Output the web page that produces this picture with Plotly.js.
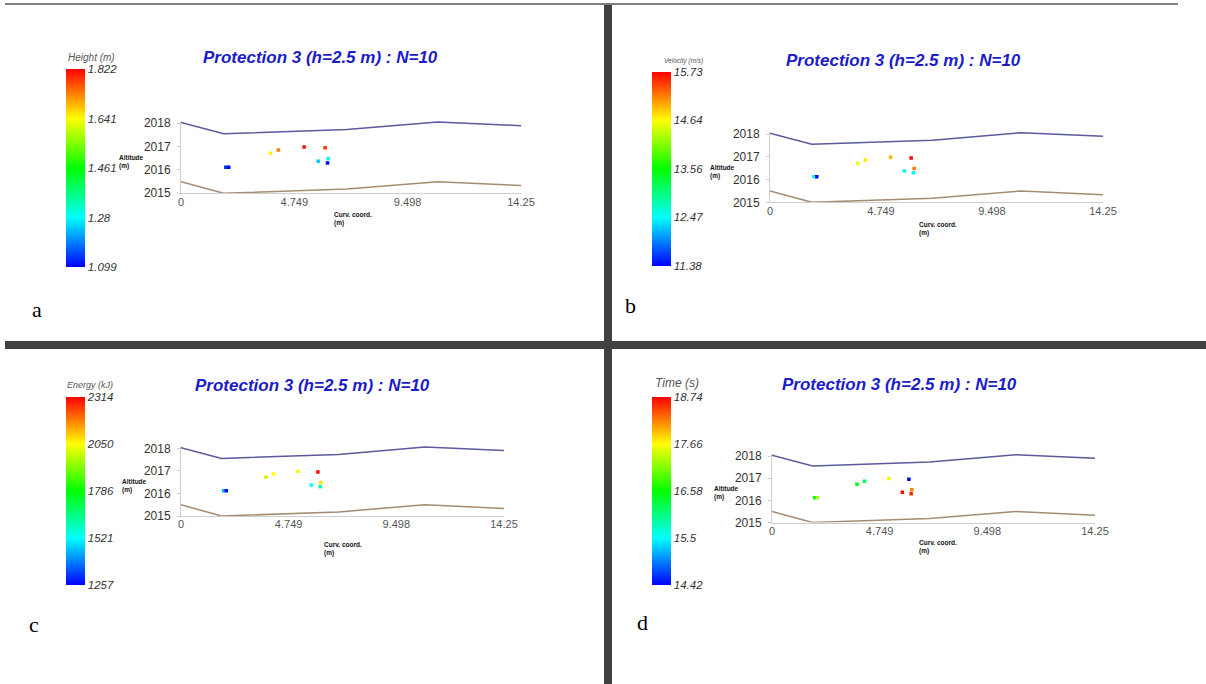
<!DOCTYPE html>
<html><head><meta charset="utf-8">
<script src="https://cdn.plot.ly/plotly-3.0.1.min.js"></script>
<style>html,body{margin:0;padding:0;background:#fff}</style>
</head><body><div id="chart" style="width:1206px;height:684px"></div>
<script>
// ---------- data ----------
const curvTicks = [0, 4.749, 9.498, 14.25];
const curvTickText = ['0', '4.749', '9.498', '14.25'];
const altTicks = [2015, 2016, 2017, 2018];
const topX = [0, 1.79, 6.95, 10.76, 14.25];
const topY = [2018.03, 2017.55, 2017.73, 2018.06, 2017.9];
const botX = [0, 1.79, 6.95, 10.76, 14.25];
const botY = [2015.5, 2015.0, 2015.18, 2015.5, 2015.33];
const ptX = [1.88, 2.0, 3.75, 4.08, 5.16, 6.04, 5.75, 6.17, 6.14];
const ptY = [2016.12, 2016.12, 2016.72, 2016.86, 2016.98, 2016.95, 2016.37, 2016.48, 2016.30];
const heightVals = [1.13, 1.10, 1.65, 1.73, 1.81, 1.78, 1.24, 1.29, 1.10];
const velocityVals = [12.45, 11.40, 14.60, 14.70, 14.95, 15.70, 12.50, 15.20, 12.55];
const energyVals = [1440, 1270, 1990, 2050, 2060, 2300, 1540, 2080, 1620];
const timeVals = [16.50, 17.30, 16.55, 16.20, 17.60, 14.45, 18.70, 18.20, 18.60];
const heightTicks = [1.099, 1.28, 1.461, 1.641, 1.822];
const heightTickText = ['1.099', '1.28', '1.461', '1.641', '1.822'];
const velocityTicks = [11.38, 12.47, 13.56, 14.64, 15.73];
const velocityTickText = ['11.38', '12.47', '13.56', '14.64', '15.73'];
const energyTicks = [1257, 1521, 1786, 2050, 2314];
const energyTickText = ['1257', '1521', '1786', '2050', '2314'];
const timeTicks = [14.42, 15.5, 16.58, 17.66, 18.74];
const timeTickText = ['14.42', '15.5', '16.58', '17.66', '18.74'];
const titleText = 'Protection 3 (h=2.5 m) : N=10';
const cbTitles = ['Height (m)', 'Velocity (m/s)', 'Energy (kJ)', 'Time (s)'];
const panelLetters = ['a', 'b', 'c', 'd'];
const xTitle = 'Curv. coord.<br>(m)';
const yTitle = 'Altitude<br>(m)';

// ---------- layout helpers ----------
const W = 1206, H = 684;
const px = v => v / W, py = v => 1 - v / H;
const rainbow = [[0, '#0000ff'], [0.25, '#00ffff'], [0.5, '#00ff00'], [0.75, '#ffff00'], [1, '#ff0000']];

const panels = [
  {vals: heightVals, ticks: heightTicks, tt: heightTickText, plot: [181, 521, 123.3, 193.3], cb: [65.7, 69.3, 267.7], title: [320, 57], cbt: [91.5, 57, 10], yt: [117, 152], xt: [332, 209], letter: [37, 309]},
  {vals: velocityVals, ticks: velocityTicks, tt: velocityTickText, plot: [770, 1103, 134, 202.3], cb: [652.3, 71.7, 265.7], title: [903, 60], cbt: [683, 61, 6.5], yt: [708, 162], xt: [917, 219], letter: [630, 305]},
  {vals: energyVals, ticks: energyTicks, tt: energyTickText, plot: [181, 504, 448.3, 516], cb: [65.7, 396.7, 585], title: [312, 385], cbt: [90, 385, 9], yt: [120, 476], xt: [322, 539], letter: [34, 624]},
  {vals: timeVals, ticks: timeTicks, tt: timeTickText, plot: [772, 1095, 456, 522.5], cb: [652.3, 396.7, 584.3], title: [899, 384.5], cbt: [677, 383, 12], yt: [712, 483], xt: [917, 537], letter: [642, 622]}
];

const traces = [];
const layout = {
  width: W, height: H,
  margin: {l: 0, r: 0, t: 0, b: 0, autoexpand: false},
  paper_bgcolor: '#ffffff', plot_bgcolor: 'rgba(0,0,0,0)',
  showlegend: false,
  annotations: [],
  shapes: [
    {type: 'line', xref: 'paper', yref: 'paper', x0: px(5), x1: px(1178), y0: py(4), y1: py(4), line: {color: '#000', width: 1}},
    {type: 'rect', xref: 'paper', yref: 'paper', x0: px(604), x1: px(612), y0: py(5), y1: 0, fillcolor: '#404040', line: {width: 0}},
    {type: 'rect', xref: 'paper', yref: 'paper', x0: px(5), x1: 1, y0: py(341), y1: py(349), fillcolor: '#404040', line: {width: 0}}
  ]
};

const xTickFont = {family: 'Liberation Sans, Arial, sans-serif', size: 11, color: '#555'};
const yTickFont = {family: 'Liberation Sans, Arial, sans-serif', size: 12, color: '#333'};

panels.forEach((p, i) => {
  const n = i === 0 ? '' : String(i + 1);
  const xa = 'x' + n, ya = 'y' + n, ca = 'coloraxis' + n;
  const [x0, x1, yTopPx, yBotPx] = p.plot;
  const pxPerUnit = (yBotPx - yTopPx) / 3;
  const yMax = 2018.1;
  const topPx = yTopPx - (yMax - 2018) * pxPerUnit;
  layout['xaxis' + n] = {
    domain: [px(x0), px(x1)], range: [0, 14.25], anchor: ya,
    tickvals: curvTicks, ticktext: curvTickText, ticks: '', ticklabelstandoff: -2,
    showgrid: false, zeroline: false, showline: true, linecolor: '#cfcfcf', linewidth: 1,
    tickfont: xTickFont, fixedrange: true
  };
  layout['yaxis' + n] = {
    domain: [py(yBotPx), py(topPx)], range: [2015, yMax], anchor: xa,
    tickvals: altTicks, ticks: 'outside', ticklen: 3, tickcolor: '#cfcfcf', ticklabelstandoff: 4,
    showgrid: false, zeroline: false, showline: true, linecolor: '#cfcfcf', linewidth: 1,
    tickfont: yTickFont, fixedrange: true
  };
  layout[ca] = {
    cmin: p.ticks[0], cmax: p.ticks[p.ticks.length - 1], colorscale: rainbow,
    colorbar: {
      x: px(p.cb[0]), xanchor: 'left', xpad: 0, ypad: 0,
      y: py(p.cb[1]), yanchor: 'top',
      len: p.cb[2] - p.cb[1], lenmode: 'pixels',
      thickness: 19, thicknessmode: 'pixels', outlinewidth: 0,
      ticks: '', tickvals: p.ticks, ticktext: p.tt,
      tickfont: {family: 'Liberation Sans, Arial, sans-serif', size: 11.5, color: '#333', style: 'italic'}
    }
  };
  traces.push({x: topX, y: topY, xaxis: xa, yaxis: ya, type: 'scatter', mode: 'lines', line: {color: '#5a5a9c', width: 1.5}, hoverinfo: 'skip'});
  traces.push({x: botX, y: botY, xaxis: xa, yaxis: ya, type: 'scatter', mode: 'lines', line: {color: '#a48c72', width: 1.5}, hoverinfo: 'skip'});
  traces.push({x: ptX, y: ptY, xaxis: xa, yaxis: ya, type: 'scatter', mode: 'markers',
    marker: {symbol: 'square', size: 3.5, color: p.vals, coloraxis: ca, line: {width: 0}}});

  layout.annotations.push(
    {text: titleText, xref: 'paper', yref: 'paper', x: px(p.title[0]), y: py(p.title[1]), xanchor: 'center', yanchor: 'middle', showarrow: false,
      font: {family: 'Liberation Sans, Arial, sans-serif', size: 17, color: '#1c1cc8', weight: 'bold', style: 'italic'}},
    {text: cbTitles[i], xref: 'paper', yref: 'paper', x: px(p.cbt[0]), y: py(p.cbt[1]), xanchor: 'center', yanchor: 'middle', showarrow: false,
      font: {family: 'Liberation Sans, Arial, sans-serif', size: p.cbt[2], color: '#555', style: 'italic'}},
    {text: yTitle, xref: 'paper', yref: 'paper', x: px(p.yt[0]), y: py(p.yt[1]), xanchor: 'left', yanchor: 'top', align: 'left', showarrow: false,
      font: {family: 'Liberation Sans, Arial, sans-serif', size: 6.5, color: '#111', weight: 'bold'}},
    {text: xTitle, xref: 'paper', yref: 'paper', x: px(p.xt[0]), y: py(p.xt[1]), xanchor: 'left', yanchor: 'top', align: 'left', showarrow: false,
      font: {family: 'Liberation Sans, Arial, sans-serif', size: 6.5, color: '#111', weight: 'bold'}},
    {text: panelLetters[i], xref: 'paper', yref: 'paper', x: px(p.letter[0]), y: py(p.letter[1]), xanchor: 'center', yanchor: 'middle', showarrow: false,
      font: {family: 'Liberation Serif, Times New Roman, serif', size: 22, color: '#000'}}
  );
});

Plotly.newPlot('chart', traces, layout, {staticPlot: true, displayModeBar: false});
</script></body></html>
